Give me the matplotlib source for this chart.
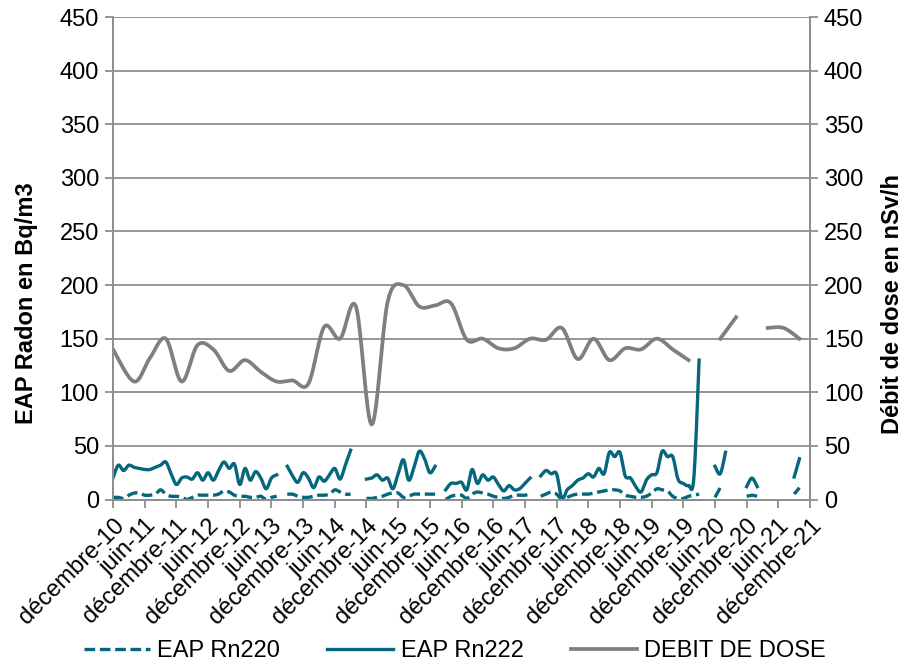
import numpy as np
import matplotlib
matplotlib.use("Agg")
import matplotlib.pyplot as plt

plt.rcParams['font.family'] = ['Liberation Sans', 'DejaVu Sans']

N = None

# Month index 0 = décembre 2010, one value per month (None = no measurement)
rn222 = [
    20, 32, 27, 32, 30, 29, 28, 28, 30, 32, 35, 24,
    14, 20, 21, 19, 25, 18, 25, 18, 27, 35, 29, 33,
    14, 29, 18, 26, 20, 10, 20, 23, N, 31, 22, 16,
    25, 20, 11, 21, 17, 23, 29, 19, 32, 46, N, N,
    19, 20, 23, 18, 20, 10, 24, 37, 18, 30, 45, 38,
    25, 31, N, 9, 15, 15, 16, 9, 28, 15, 23, 18,
    21, 14, 8, 13, 9, 10, 15, 20, N, 22, 27, 24,
    24, 1, 9, 13, 18, 20, 24, 21, 29, 24, 44, 40,
    44, 22, 20, 12, 7, 18, 23, 25, 45, 40, 40, 19,
    15, 13, 20, 130, N, N, 31, 24, 44, N, N, N,
    12, 20, 12, N, N, N, N, N, N, 21, 38, N,
    N,
]

rn220 = [
    2, 2, 1, 4, 6, 6, 4, 4, 5, 9, 5, 3,
    3, 2, 0, 2, 4, 4, 4, 4, 5, 8, 7, 4,
    3, 3, 2, 2, 3, 0, 2, 3, N, 5, 5, 3,
    2, 2, 3, 4, 4, 5, 9, 7, 5, 5, N, N,
    1, 1, 2, 3, 5, 6, 6, 2, 3, 5, 5, 5,
    5, 5, N, 0, 3, 4, 4, 1, 5, 7, 6, 5,
    3, 2, 1, 2, 4, 4, 4, 5, N, 3, 5, 7,
    5, 0, 2, 4, 5, 5, 5, 6, 7, 8, 9, 9,
    8, 4, 3, 2, 2, 3, 6, 10, 9, 8, 3, 1,
    1, 3, 4, 5, N, N, 2, 11, N, N, N, N,
    3, 4, 3, N, N, N, N, N, N, 5, 11, N,
    N,
]

# Quarterly dose-rate readings (month index, nSv/h)
dose_months = [0, 4, 7, 10, 13, 16, 19, 22, 25, 28, 31, 34, 37, 40, 43, 46,
               49, 52, 55, 58, 61, 64, 67, 70, 73, 76, 79, 82, 85, 88, 91, 94,
               97, 100, 103, 106, 109, 112, 115, 118, 121, 124, 127, 130]
dose = [140, 110, 132, 150, 110, 144, 140, 120, 130, 119, 110, 111, 108, 161,
        150, 180, 70, 184, 200, 180, 181, 183, 149, 150, 141, 141, 150, 149,
        160, 131, 150, 130, 141, 140, 150, 140, 130, N, 150, 170, N, 160,
        160, 150]

tick_labels = ['décembre-10', 'juin-11', 'décembre-11', 'juin-12', 'décembre-12',
               'juin-13', 'décembre-13', 'juin-14', 'décembre-14', 'juin-15',
               'décembre-15', 'juin-16', 'décembre-16', 'juin-17', 'décembre-17',
               'juin-18', 'décembre-18', 'juin-19', 'décembre-19', 'juin-20',
               'décembre-20', 'juin-21', 'décembre-21']

TEAL = '#04677C'
GREY = '#7F7F80'
GRID = '#8E8E8E'
FS = 17


def smooth(xs, ys, steps=20):
    """Smoothed polyline (cubic Bezier through the points), NaN between gaps."""
    out_x, out_y = [], []
    seg = []
    def flush():
        if len(seg) >= 2:
            p = np.array(seg, dtype=float)
            n = len(p)
            t = np.linspace(0, 1, steps)[:, None]
            for i in range(n - 1):
                p0 = p[max(i - 1, 0)]
                p1 = p[i]
                p2 = p[i + 1]
                p3 = p[min(i + 2, n - 1)]
                c1 = p1 + (p2 - p0) / 6.0
                c2 = p2 - (p3 - p1) / 6.0
                b = ((1 - t) ** 3) * p1 + 3 * ((1 - t) ** 2) * t * c1 \
                    + 3 * (1 - t) * t ** 2 * c2 + t ** 3 * p2
                out_x.extend(b[:, 0]); out_y.extend(b[:, 1])
            out_x.append(np.nan); out_y.append(np.nan)
        seg.clear()
    for x, y in zip(xs, ys):
        if y is None:
            flush()
        else:
            seg.append((x, y))
    flush()
    return np.array(out_x), np.array(out_y)


fig = plt.figure(figsize=(9.06, 6.64), dpi=100)
ax = fig.add_axes([113 / 906, 1 - 499.5 / 664, (810 - 113) / 906, (499.5 - 17) / 664])
ax2 = ax.twinx()

months = np.arange(len(rn222))
x220, y220 = smooth(months, rn220)
x222, y222 = smooth(months, rn222)
xd, yd = smooth(dose_months, dose)

l220, = ax.plot(x220, y220, color=TEAL, lw=2.4, dashes=(3.2, 1.4),
                solid_capstyle='butt', label='EAP Rn220')
l222, = ax.plot(x222, y222, color=TEAL, lw=2.4, label='EAP Rn222')
ld, = ax2.plot(xd, yd, color=GREY, lw=2.7, label='DEBIT DE DOSE')

for a in (ax, ax2):
    a.set_ylim(0, 450)
    a.set_yticks(np.arange(0, 451, 50))
    a.set_xlim(0, 132)
    for s in a.spines.values():
        s.set_color(GRID)
        s.set_linewidth(1.3)
    a.spines['top'].set_visible(False)
    a.tick_params(axis='y', labelsize=FS, length=6, width=1.3, color=GRID, pad=4)

ax.yaxis.grid(True, color=GRID, lw=1.3)
ax.set_axisbelow(True)
ax.set_xticks(np.arange(0, 133, 6))
ax.set_xticklabels(tick_labels, rotation=45, ha='right', rotation_mode='anchor')
ax.tick_params(axis='x', labelsize=FS, length=6, width=1.3, color=GRID, pad=5)

ax.set_ylabel('EAP Radon en Bq/m3', fontsize=FS, fontweight='bold')
ax2.set_ylabel('Débit de dose en nSv/h', fontsize=FS, fontweight='bold')
ax.yaxis.set_label_coords(-0.107, 0.407)
ax2.yaxis.set_label_coords(1.102, 0.405)

fig.legend([l220, l222, ld], ['EAP Rn220', 'EAP Rn222', 'DEBIT DE DOSE'],
           loc='center', bbox_to_anchor=(0.502, 0.019), ncol=3, frameon=False,
           fontsize=FS, handlelength=2.8, handletextpad=0.3, columnspacing=2.0)

fig.savefig('out.png', dpi=100)
